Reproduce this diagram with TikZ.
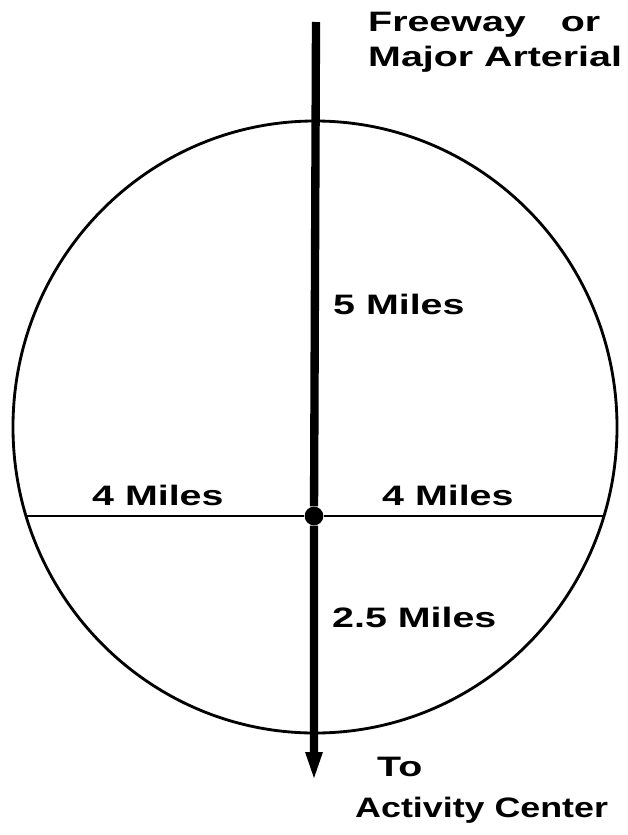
\documentclass[tikz,border=0pt]{standalone}
\usepackage{fontspec}
\newfontfamily\lettering[FakeStretch=1.4]{Liberation Sans}
\usetikzlibrary{arrows.meta}

\begin{document}
\begin{tikzpicture}[
  x=0.03cm, y=-0.03cm,
  every node/.style={inner sep=0pt},
  lbl/.style={anchor=base west, font=\lettering\bfseries\fontsize{24pt}{30pt}\selectfont},
  rim/.style={line width=0.085cm},
  chord/.style={line width=0.06cm},
  road/.style={line width=0.25cm, -{Triangle[length=0.9cm, width=0.45cm]}},
]
\useasboundingbox (0,0) rectangle (628,835);

%% ---- the ring round the road ----
\draw[rim] (315,427) ellipse [x radius=9.06cm, y radius=9.18cm];

%% ---- cross line and hub ----
\coordinate (westend) at (26,516);
\coordinate (eastend) at (604,516);
\node[circle, fill=black, minimum size=0.56cm] (hub) at (314,516) {};
\draw[chord] (westend) -- (hub) -- (eastend);

%% ---- the road itself ----
\coordinate (roadtop) at (316,22);
\coordinate (roadend) at (314,782);
\draw[road] (roadtop) -- (hub) -- (roadend);

%% ---- labels ----
\node[lbl] (fwy) at (368,31) {Freeway\hspace{1.05cm}or};
\node[lbl] (art) at (368,66) {Major Arterial};
\node[lbl] (upper) at (333,314) {5 Miles};
\node[lbl] (west) at (92,505) {4 Miles};
\node[lbl] (east) at (382,505) {4 Miles};
\node[lbl] (lower) at (332,627) {2.5 Miles};
\node[lbl] (to) at (377,776) {To};
\node[lbl] (act) at (355,817) {\scalebox{0.91}[1]{Activity Center}};

\end{tikzpicture}
\end{document}
